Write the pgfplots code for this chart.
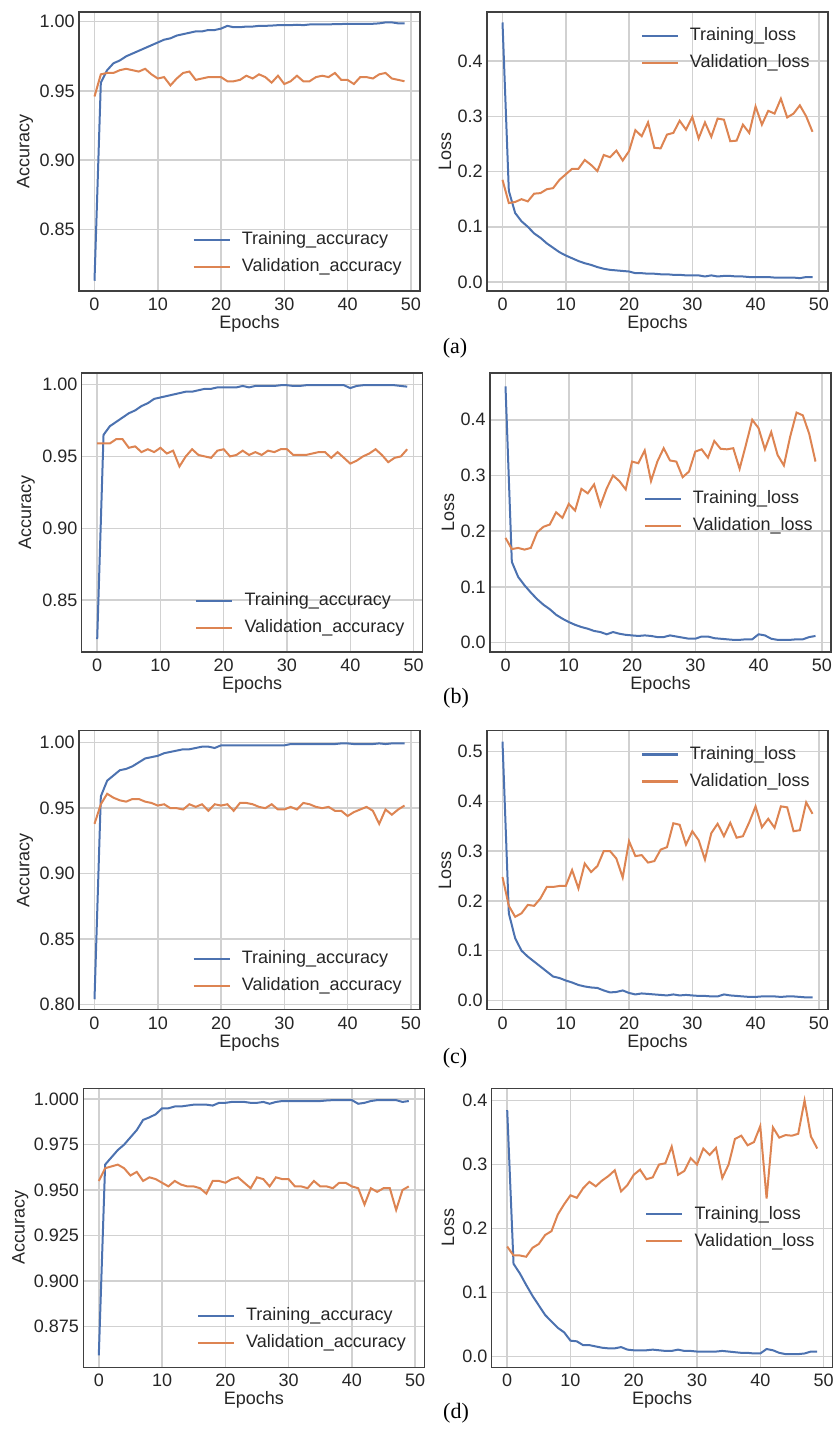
\documentclass[border=0pt]{standalone}
\usepackage{fontspec}
\setmainfont{Liberation Sans}
\newfontfamily\capfont{Liberation Serif}
\usepackage{pgfplots}
\usepackage{pgfplotstable}
\pgfplotsset{compat=1.18}
\definecolor{sblue}{HTML}{4C72B0}
\definecolor{sorange}{HTML}{DD8452}
\definecolor{txt}{HTML}{262626}

\pgfplotstableread{
e tacc vacc tloss vloss
0 0.813 0.946 0.470 0.185
1 0.956 0.962 0.165 0.143
2 0.965 0.963 0.125 0.145
3 0.970 0.963 0.110 0.150
4 0.972 0.965 0.100 0.146
5 0.975 0.966 0.088 0.160
6 0.977 0.965 0.080 0.161
7 0.979 0.964 0.070 0.168
8 0.981 0.966 0.062 0.170
9 0.983 0.962 0.054 0.185
10 0.985 0.959 0.048 0.195
11 0.987 0.960 0.043 0.205
12 0.988 0.954 0.038 0.205
13 0.990 0.959 0.034 0.221
14 0.991 0.963 0.031 0.212
15 0.992 0.964 0.027 0.201
16 0.993 0.958 0.024 0.230
17 0.993 0.959 0.022 0.226
18 0.994 0.960 0.021 0.238
19 0.994 0.960 0.020 0.220
20 0.995 0.960 0.019 0.237
21 0.997 0.957 0.016 0.275
22 0.996 0.957 0.016 0.264
23 0.996 0.958 0.015 0.289
24 0.9965 0.961 0.015 0.243
25 0.9965 0.959 0.014 0.242
26 0.997 0.962 0.014 0.267
27 0.997 0.960 0.013 0.270
28 0.9972 0.956 0.013 0.292
29 0.9975 0.961 0.012 0.276
30 0.9975 0.955 0.012 0.299
31 0.9975 0.957 0.012 0.260
32 0.9978 0.961 0.010 0.289
33 0.9975 0.957 0.012 0.263
34 0.998 0.957 0.010 0.296
35 0.998 0.960 0.011 0.294
36 0.998 0.961 0.011 0.255
37 0.998 0.960 0.010 0.256
38 0.9983 0.963 0.010 0.285
39 0.9983 0.958 0.009 0.270
40 0.9985 0.958 0.009 0.318
41 0.9985 0.955 0.009 0.285
42 0.9985 0.960 0.009 0.310
43 0.9985 0.960 0.008 0.305
44 0.9985 0.959 0.008 0.332
45 0.9988 0.962 0.008 0.298
46 0.9995 0.963 0.008 0.305
47 0.9995 0.959 0.007 0.320
48 0.9988 0.958 0.009 0.300
49 0.9988 0.957 0.009 0.272
}\dataA

\pgfplotstableread{
e tacc vacc tloss vloss
0 0.823 0.959 0.460 0.188
1 0.965 0.959 0.145 0.168
2 0.971 0.959 0.118 0.170
3 0.974 0.962 0.103 0.167
4 0.977 0.962 0.090 0.170
5 0.980 0.956 0.078 0.198
6 0.982 0.957 0.068 0.208
7 0.985 0.953 0.060 0.212
8 0.987 0.955 0.050 0.234
9 0.990 0.953 0.043 0.224
10 0.991 0.956 0.037 0.249
11 0.992 0.952 0.032 0.237
12 0.993 0.954 0.028 0.276
13 0.994 0.943 0.025 0.268
14 0.995 0.950 0.021 0.284
15 0.995 0.955 0.019 0.246
16 0.996 0.951 0.015 0.277
17 0.997 0.950 0.019 0.300
18 0.997 0.949 0.016 0.290
19 0.998 0.954 0.014 0.275
20 0.998 0.955 0.013 0.325
21 0.998 0.950 0.012 0.322
22 0.998 0.951 0.013 0.345
23 0.999 0.954 0.012 0.290
24 0.998 0.951 0.010 0.325
25 0.999 0.953 0.010 0.349
26 0.999 0.951 0.013 0.327
27 0.999 0.954 0.011 0.325
28 0.999 0.953 0.009 0.297
29 0.9995 0.955 0.007 0.307
30 0.9995 0.955 0.007 0.343
31 0.999 0.951 0.011 0.347
32 0.999 0.951 0.011 0.332
33 0.9995 0.951 0.008 0.362
34 0.9995 0.952 0.007 0.348
35 0.9995 0.953 0.006 0.347
36 0.9995 0.953 0.005 0.349
37 0.9995 0.949 0.005 0.312
38 0.9995 0.953 0.006 0.355
39 0.9995 0.949 0.006 0.400
40 0.9975 0.945 0.015 0.385
41 0.999 0.947 0.013 0.347
42 0.9995 0.950 0.007 0.378
43 0.9995 0.952 0.005 0.337
44 0.9995 0.955 0.005 0.318
45 0.9995 0.951 0.005 0.370
46 0.9995 0.946 0.006 0.413
47 0.9995 0.949 0.006 0.408
48 0.999 0.950 0.010 0.375
49 0.9985 0.955 0.012 0.325
}\dataB

\pgfplotstableread{
e tacc vacc tloss vloss
0 0.804 0.938 0.520 0.248
1 0.959 0.953 0.175 0.190
2 0.971 0.961 0.125 0.168
3 0.975 0.958 0.100 0.175
4 0.979 0.956 0.088 0.192
5 0.980 0.955 0.078 0.190
6 0.982 0.957 0.068 0.205
7 0.985 0.957 0.058 0.228
8 0.988 0.955 0.048 0.228
9 0.989 0.954 0.045 0.230
10 0.990 0.952 0.040 0.230
11 0.992 0.953 0.036 0.262
12 0.993 0.950 0.031 0.225
13 0.994 0.950 0.028 0.275
14 0.995 0.949 0.026 0.258
15 0.995 0.953 0.025 0.270
16 0.996 0.951 0.020 0.300
17 0.997 0.953 0.016 0.300
18 0.997 0.948 0.017 0.285
19 0.996 0.953 0.020 0.247
20 0.998 0.952 0.015 0.320
21 0.998 0.953 0.012 0.290
22 0.998 0.948 0.014 0.292
23 0.998 0.954 0.013 0.277
24 0.998 0.954 0.012 0.280
25 0.998 0.953 0.011 0.303
26 0.998 0.951 0.010 0.308
27 0.998 0.950 0.012 0.356
28 0.998 0.953 0.010 0.353
29 0.998 0.949 0.011 0.313
30 0.998 0.949 0.010 0.340
31 0.999 0.951 0.009 0.322
32 0.999 0.949 0.009 0.283
33 0.999 0.954 0.008 0.336
34 0.999 0.953 0.008 0.355
35 0.999 0.951 0.012 0.330
36 0.999 0.950 0.010 0.357
37 0.999 0.951 0.009 0.327
38 0.999 0.948 0.008 0.330
39 0.9995 0.948 0.007 0.358
40 0.9995 0.944 0.007 0.390
41 0.999 0.947 0.008 0.348
42 0.999 0.949 0.008 0.365
43 0.999 0.951 0.008 0.347
44 0.999 0.948 0.007 0.390
45 0.9995 0.938 0.008 0.388
46 0.999 0.949 0.008 0.340
47 0.9995 0.945 0.007 0.342
48 0.9995 0.949 0.006 0.398
49 0.9995 0.952 0.006 0.375
}\dataC

\pgfplotstableread{
e tacc vacc tloss vloss
0 0.859 0.955 0.385 0.172
1 0.964 0.962 0.145 0.158
2 0.968 0.963 0.130 0.158
3 0.972 0.964 0.112 0.156
4 0.975 0.962 0.095 0.170
5 0.979 0.958 0.080 0.176
6 0.983 0.960 0.065 0.190
7 0.9886 0.955 0.055 0.196
8 0.990 0.957 0.045 0.222
9 0.9917 0.956 0.038 0.238
10 0.995 0.954 0.025 0.252
11 0.995 0.952 0.024 0.248
12 0.996 0.955 0.018 0.263
13 0.996 0.953 0.018 0.273
14 0.9965 0.952 0.016 0.266
15 0.997 0.952 0.014 0.275
16 0.997 0.951 0.013 0.282
17 0.997 0.948 0.013 0.291
18 0.9965 0.955 0.015 0.258
19 0.998 0.955 0.011 0.268
20 0.998 0.954 0.010 0.284
21 0.9985 0.956 0.010 0.292
22 0.9985 0.957 0.010 0.277
23 0.9985 0.954 0.011 0.280
24 0.998 0.951 0.010 0.300
25 0.998 0.957 0.009 0.302
26 0.9985 0.956 0.009 0.328
27 0.9975 0.952 0.011 0.284
28 0.9985 0.957 0.009 0.290
29 0.999 0.956 0.009 0.310
30 0.999 0.956 0.008 0.300
31 0.999 0.952 0.008 0.325
32 0.999 0.952 0.008 0.315
33 0.999 0.951 0.008 0.326
34 0.999 0.955 0.009 0.279
35 0.999 0.952 0.008 0.300
36 0.9993 0.952 0.007 0.340
37 0.9995 0.951 0.006 0.345
38 0.9995 0.954 0.006 0.330
39 0.9995 0.954 0.005 0.335
40 0.9995 0.952 0.005 0.360
41 0.9975 0.951 0.012 0.247
42 0.998 0.942 0.010 0.358
43 0.999 0.951 0.006 0.342
44 0.9995 0.949 0.004 0.346
45 0.9995 0.951 0.004 0.345
46 0.9995 0.951 0.004 0.348
47 0.9995 0.939 0.005 0.400
48 0.9985 0.950 0.008 0.344
49 0.999 0.952 0.008 0.325
}\dataD

\pgfplotsset{
  myax/.style={
    scale only axis, width=170.5pt, height=139.5pt, anchor=north west,
    xmin=-2.45, xmax=51.45, xtick={0,10,...,50},
    grid=major, major grid style={draw=black!18, line width=0.75pt},
    axis line style={draw=black!75, line width=0.75pt},
    major tick length=0pt, tick style={draw=none},
    tick label style={font=\fontsize{9}{10.8}\selectfont, text=txt},
    yticklabel style={inner xsep=2pt},
    label style={font=\fontsize{9}{10.8}\selectfont, text=txt},
    xlabel=Epochs,
    xlabel style={at={(axis description cs:0.5,-0.117)}, anchor=center},
    /pgf/number format/assume math mode=true,
    legend cell align=left,
    legend style={draw=none, fill=none, font=\fontsize{9}{10.8}\selectfont, text=txt,
      nodes={inner sep=2pt, text height=6.6pt, text depth=1.9pt},
      row sep=1pt, column sep=3.5pt},
    legend image code/.code={\draw[##1, line width=1.1pt] (0pt,0pt) -- (18pt,0pt);},
    every axis plot/.append style={line width=1pt, mark=none},
  },
  accax/.style={myax, ylabel=Accuracy,
    ylabel style={at={(axis description cs:-0.158,0.5)}, anchor=center},
    yticklabel style={/pgf/number format/.cd, fixed, fixed zerofill, precision=2},
    legend style={at={(1,0)}, anchor=south east, xshift=-4pt, yshift=3.6pt}},
  lossax/.style={myax, ylabel=Loss,
    ylabel style={at={(axis description cs:-0.123,0.5)}, anchor=center},
    ytick={0,0.1,...,0.51},
    yticklabel style={/pgf/number format/.cd, fixed, fixed zerofill, precision=1}},
  lossUR/.style={legend style={at={(1,1)}, anchor=north east, xshift=-4pt, yshift=-3.4pt}},
  lossCR/.style={legend style={at={(1,0.5)}, anchor=east, xshift=-4pt}},
}

\begin{document}
\begin{tikzpicture}
\path[use as bounding box] (0,0) rectangle (417pt,-714.5pt);

% ---------- (a)
\begin{axis}[accax, at={(39.5pt,-6pt)}, ymin=0.8056, ymax=1.007, ytick={0.85,0.90,0.95,1.00}]
\addplot[sblue] table[x=e,y=tacc]{\dataA};
\addplot[sorange] table[x=e,y=vacc]{\dataA};
\legend{Training\_accuracy, Validation\_accuracy}
\end{axis}
\begin{axis}[lossax, lossUR, at={(243.5pt,-6pt)}, ymin=-0.0163, ymax=0.489]
\addplot[sblue] table[x=e,y=tloss]{\dataA};
\addplot[sorange] table[x=e,y=vloss]{\dataA};
\legend{Training\_loss, Validation\_loss}
\end{axis}
\node[font=\capfont\fontsize{11}{13}\selectfont, text=black] at (227.5pt,-174.25pt) {(a)};

% ---------- (b)
\begin{axis}[accax, at={(40.85pt,-186.5pt)}, ymin=0.814, ymax=1.008, ytick={0.85,0.90,0.95,1.00},
  ylabel style={at={(axis description cs:-0.161,0.5)}}]
\addplot[sblue] table[x=e,y=tacc]{\dataB};
\addplot[sorange] table[x=e,y=vacc]{\dataB};
\legend{Training\_accuracy, Validation\_accuracy}
\end{axis}
\begin{axis}[lossax, lossCR, at={(245pt,-186.5pt)}, ymin=-0.0168, ymax=0.484]
\addplot[sblue] table[x=e,y=tloss]{\dataB};
\addplot[sorange] table[x=e,y=vloss]{\dataB};
\legend{Training\_loss, Validation\_loss}
\end{axis}
\node[font=\capfont\fontsize{11}{13}\selectfont, text=black] at (228pt,-349pt) {(b)};

% ---------- (c)
\begin{axis}[accax, at={(39.5pt,-365.35pt)}, ymin=0.796, ymax=1.0092, ytick={0.80,0.85,0.90,0.95,1.00}]
\addplot[sblue] table[x=e,y=tacc]{\dataC};
\addplot[sorange] table[x=e,y=vacc]{\dataC};
\legend{Training\_accuracy, Validation\_accuracy}
\end{axis}
\begin{axis}[lossax, lossUR, at={(243.5pt,-365.35pt)}, ymin=-0.0187, ymax=0.542]
\addplot[sblue] table[x=e,y=tloss]{\dataC};
\addplot[sorange] table[x=e,y=vloss]{\dataC};
\legend{Training\_loss, Validation\_loss}
\end{axis}
\node[font=\capfont\fontsize{11}{13}\selectfont, text=black] at (227.5pt,-529pt) {(c)};

% ---------- (d)
\begin{axis}[accax, at={(41.65pt,-544.15pt)}, ymin=0.8524, ymax=1.006,
  ytick={0.875,0.900,0.925,0.950,0.975,1.000},
  yticklabel style={/pgf/number format/.cd, fixed, fixed zerofill, precision=3},
  ylabel style={at={(axis description cs:-0.185,0.5)}}]
\addplot[sblue] table[x=e,y=tacc]{\dataD};
\addplot[sorange] table[x=e,y=vacc]{\dataD};
\legend{Training\_accuracy, Validation\_accuracy}
\end{axis}
\begin{axis}[lossax, lossCR, at={(245.85pt,-544.15pt)}, ymin=-0.0166, ymax=0.419,
  ylabel style={at={(axis description cs:-0.128,0.5)}}]
\addplot[sblue] table[x=e,y=tloss]{\dataD};
\addplot[sorange] table[x=e,y=vloss]{\dataD};
\legend{Training\_loss, Validation\_loss}
\end{axis}
\node[font=\capfont\fontsize{11}{13}\selectfont, text=black] at (228pt,-706.5pt) {(d)};
\end{tikzpicture}
\end{document}
